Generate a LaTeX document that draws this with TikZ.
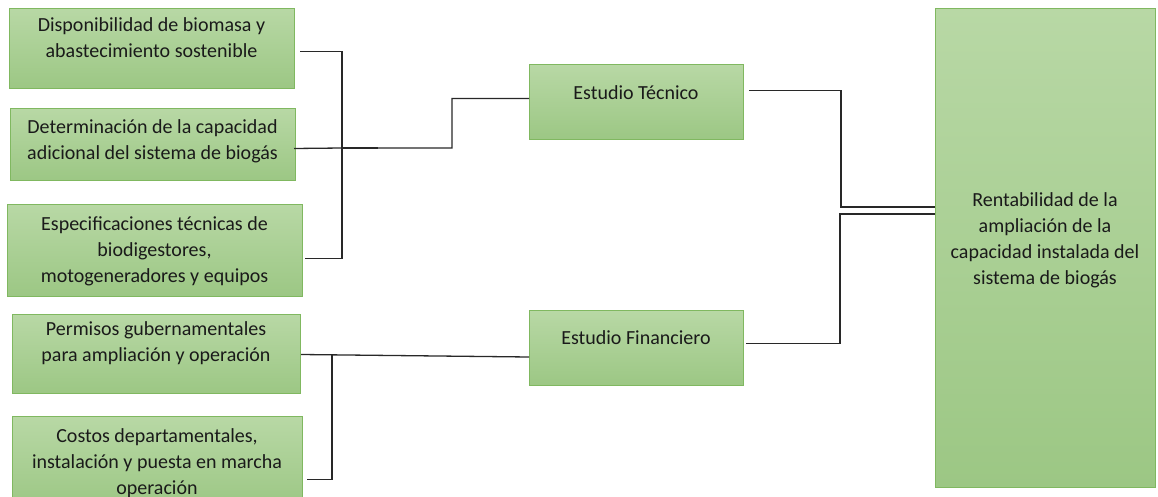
\documentclass[tikz,border=0pt]{standalone}
\usepackage{fontspec}
\setmainfont{Carlito}
\definecolor{boxtop}{RGB}{184,216,165}
\definecolor{boxbot}{RGB}{156,199,132}
\definecolor{boxborder}{RGB}{128,184,96}
\definecolor{textcol}{RGB}{26,26,26}
\definecolor{linecol}{RGB}{40,40,40}
\begin{document}
\begin{tikzpicture}[x=1pt,y=-1pt,
  box/.style={draw=boxborder, line width=1pt, top color=boxtop, bottom color=boxbot, inner sep=0pt, anchor=north west},
  txt/.style={align=center, font=\fontsize{20}{26}\selectfont, text=textcol, inner sep=0pt},
  conn/.style={draw=linecol, line width=1.3pt}]
\useasboundingbox (0,0) rectangle (1158,497);
% boxes
\node[box, minimum width=285pt, minimum height=80pt] (b1) at (9,8) {};
\node[box, minimum width=285pt, minimum height=72pt] (b2) at (10,108) {};
\node[box, minimum width=295pt, minimum height=92pt] (b3) at (7,204) {};
\node[box, minimum width=288pt, minimum height=79pt] (b4) at (12,314) {};
\node[box, minimum width=290pt, minimum height=92pt] (b5) at (12,416) {};
\node[box, minimum width=214pt, minimum height=75pt] (et) at (529,64) {};
\node[box, minimum width=214pt, minimum height=75pt] (ef) at (529,310) {};
\node[box, minimum width=220pt, minimum height=479pt] (rb) at (935,8) {};
% texts
\node[txt] (t1) at (151.5,38) {Disponibilidad de biomasa y\\abastecimiento sostenible};
\node[txt] (t2) at (152.5,141) {Determinación de la capacidad\\adicional del sistema de biogás};
\node[txt] (t3) at (154.5,251) {Especificaciones técnicas de\\biodigestores,\\motogeneradores y equipos};
\node[txt] (t4) at (156,343) {Permisos gubernamentales\\para ampliación y operación};
\node[txt] (t5) at (157,463) {Costos departamentales,\\instalación y puesta en marcha\\operación};
\node[txt] (tet) at (636,93) {Estudio Técnico};
\node[txt] (tef) at (636,338) {Estudio Financiero};
\node[txt] (trb) at (1045,240) {Rentabilidad de la\\ampliación de la\\capacidad instalada del\\sistema de biogás};
% junctions
\coordinate (j1) at (342,148);
\coordinate (j2) at (452,148);
\coordinate (j3) at (332,355);
\coordinate (j4) at (841,207);
\coordinate (j5) at (840,214);
% connectors
\draw[conn] ([shift={(5,3)}]b1.east) -| (j1);
\draw[conn] ([shift={(2,8)}]b3.east) -| (j1);
\draw[conn] ([shift={(-2,4)}]b2.east) -- (j1) -- (j2) |- ([shift={(0,-3.5)}]et.west);
\draw[conn, line width=2.4pt] (j1) -- ++(36,0);
\draw[conn] ([shift={(0,0.5)}]b4.east) -- ([shift={(0,9)}]ef.west);
\draw[conn] ([shift={(4,17)}]b5.east) -| (j3);
\draw[conn] ([shift={(5,-11.5)}]et.east) -| (j4) -- (j4 -| rb.west);
\draw[conn] ([shift={(2,-4.5)}]ef.east) -| (j5) -- (j5 -| rb.west);
\end{tikzpicture}
\end{document}
